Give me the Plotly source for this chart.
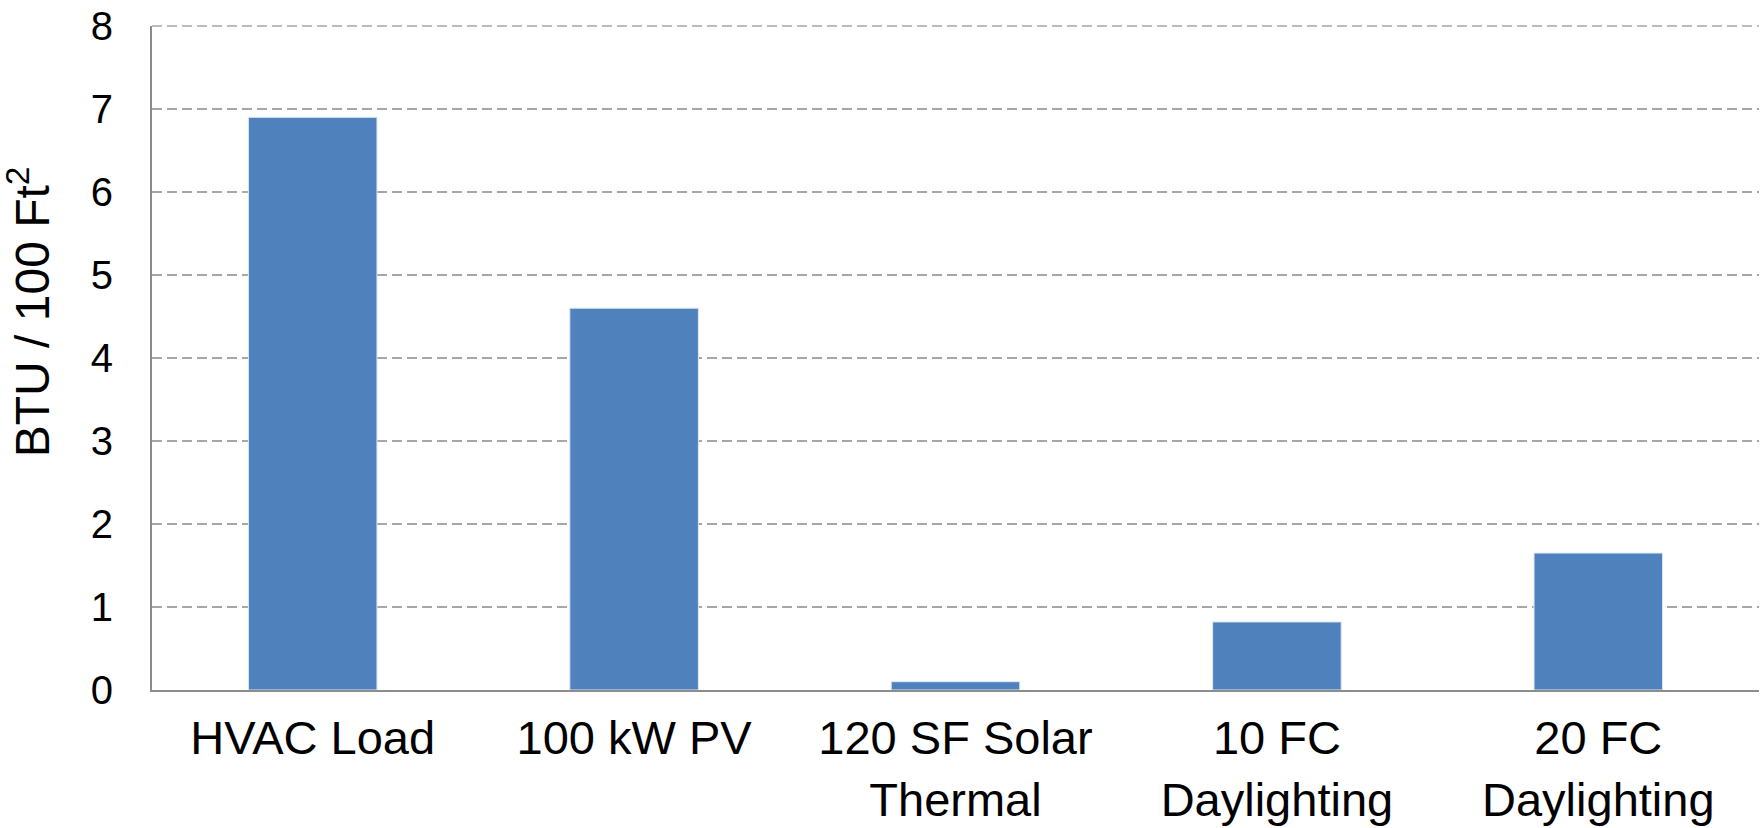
import plotly.graph_objects as go

categories = ["HVAC Load", "100 kW PV", "120 SF Solar<br>Thermal", "10 FC<br>Daylighting", "20 FC<br>Daylighting"]
values = [6.9, 4.6, 0.1, 0.82, 1.65]
y_ticks = [0, 1, 2, 3, 4, 5, 6, 7, 8]
y_title = "BTU / 100 Ft<sup>2</sup>"

fig = go.Figure(go.Bar(
    x=categories, y=values,
    marker=dict(color="#4F81BD", line=dict(color="#dfe7f2", width=1)),
    width=0.4,
))

fig.update_layout(
    width=1763, height=828,
    margin=dict(l=152, r=4, t=26, b=138),
    paper_bgcolor="white", plot_bgcolor="white",
    font=dict(family="Liberation Sans, Arial, sans-serif", color="black"),
    showlegend=False,
)
fig.update_xaxes(
    showline=True, linecolor="#8c8c8c", linewidth=2,
    tickfont=dict(size=47), ticks="", ticklabelstandoff=6,
    showgrid=False, automargin=False,
)
fig.update_yaxes(
    range=[0, y_ticks[-1]], tickvals=y_ticks,
    showline=True, linecolor="#8c8c8c", linewidth=2,
    showgrid=True, gridcolor="#a6a6a6", gridwidth=1.5, griddash="10px,5px",
    zeroline=False, automargin=False,
    tickfont=dict(size=40), ticks="", ticklabelstandoff=29,
)
# top gridline (at the upper end of the range, which Plotly does not draw)
fig.add_shape(
    type="line", xref="paper", yref="paper", x0=0, x1=1, y0=1, y1=1,
    line=dict(color="#a6a6a6", width=1.5, dash="10px,5px"), layer="above",
)
fig.add_annotation(
    text=y_title, textangle=-90, showarrow=False,
    xref="paper", yref="paper", x=-0.0765, y=0.569,
    xanchor="center", yanchor="middle",
    font=dict(size=48),
)
fig.write_html(
    "out.html",
    config={"displayModeBar": False},
    post_script="document.body.style.margin='0';document.body.style.overflow='hidden';",
)
